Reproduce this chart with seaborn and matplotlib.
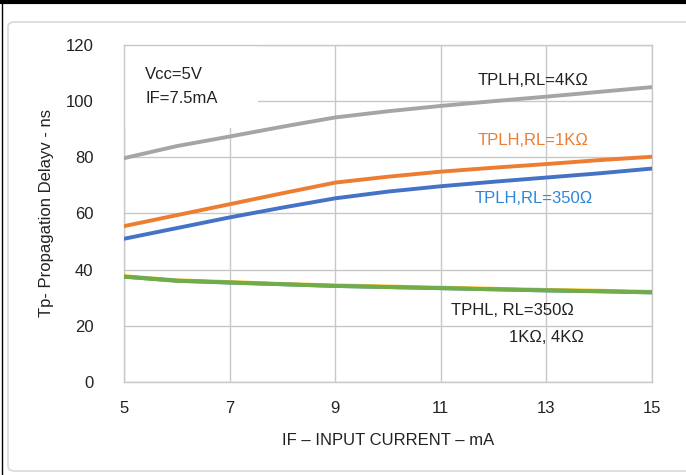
import pandas as pd
import seaborn as sns
import matplotlib.pyplot as plt
from matplotlib.patches import Rectangle, FancyBboxPatch
from matplotlib.lines import Line2D

# values
current = [5, 6, 7, 8, 9, 10, 11, 12, 13, 14, 15]
tplh_350 = [51.0, 54.8, 58.6, 62.1, 65.4, 67.8, 69.7, 71.3, 72.8, 74.3, 76.0]
tplh_1k = [55.5, 59.4, 63.3, 67.2, 71.0, 73.1, 74.9, 76.3, 77.6, 79.0, 80.2]
tplh_4k = [79.7, 84.0, 87.4, 90.9, 94.2, 96.4, 98.3, 100.0, 101.6, 103.3, 105.0]
tphl_350 = [37.7, 36.2, 35.6, 34.9, 34.4, 34.0, 33.6, 33.2, 32.8, 32.5, 32.1]
tphl_1k = [37.5, 36.1, 35.4, 34.8, 34.2, 33.8, 33.4, 33.0, 32.6, 32.3, 31.9]
tphl_4k = [37.5, 36.0, 35.4, 34.8, 34.2, 33.8, 33.4, 33.0, 32.6, 32.3, 31.9]

series = {
    'TPLH 350': tplh_350,
    'TPLH 1K': tplh_1k,
    'TPLH 4K': tplh_4k,
    'TPHL 350': tphl_350,
    'TPHL 1K': tphl_1k,
    'TPHL 4K': tphl_4k,
}
colors = ['#4472C4', '#ED7D31', '#A5A5A5', '#FFC000', '#5B9BD5', '#70AD47']

df = pd.concat([pd.DataFrame({'IF': current, 'Tp': v, 'curve': k}) for k, v in series.items()])

sns.set_style('white')
plt.rcParams['font.family'] = ['Liberation Sans', 'DejaVu Sans']

fig = plt.figure(figsize=(6.86, 4.75), dpi=100)
ax = fig.add_axes([0.1808, 0.1958, 0.7696, 0.7095])

sns.lineplot(data=df, x='IF', y='Tp', hue='curve', palette=colors, linewidth=2.8,
             legend=False, ax=ax, zorder=3)

ax.set_xlim(5, 15)
ax.set_ylim(0, 120)
ax.set_xticks([5, 7, 9, 11, 13, 15])
ax.set_yticks(range(0, 121, 20))
ax.grid(True, color='#C8C8C8', linewidth=1.0)
for s in ax.spines.values():
    s.set_color('#C8C8C8')
    s.set_linewidth(1.0)
ax.tick_params(axis='both', length=0, labelsize=12, colors='#222222')
ax.tick_params(axis='x', pad=14)
ax.tick_params(axis='y', pad=22)
ax.set_xlabel('IF – INPUT CURRENT – mA', fontsize=12, color='#222222', labelpad=12)
ax.set_ylabel('Tp- Propagation Delayv - ns', fontsize=12, color='#222222', labelpad=8)

# condition box with white background over the grid
ax.add_patch(Rectangle((5, 90.5), 2.53, 29.5, facecolor='white', edgecolor='none', zorder=2))
ax.text(5.4, 109.5, 'Vcc=5V', fontsize=12, color='#222222', va='center', zorder=4)
ax.text(5.4, 101.0, 'IF=7.5mA', fontsize=12, color='#222222', va='center', zorder=4)

ax.text(11.7, 107.5, 'TPLH,RL=4KΩ', fontsize=12, color='#222222', va='center', zorder=4)
ax.text(11.7, 86.0, 'TPLH,RL=1KΩ', fontsize=12, color='#ED7D31', va='center', zorder=4)
ax.text(11.65, 65.3, 'TPLH,RL=350Ω', fontsize=12, color='#2E86D6', va='center', zorder=4)
ax.text(11.2, 25.5, 'TPHL, RL=350Ω', fontsize=12, color='#222222', va='center', zorder=4)
ax.text(12.3, 15.8, '1KΩ, 4KΩ', fontsize=12, color='#222222', va='center', zorder=4)

# outer frame
fig.patches.append(FancyBboxPatch((8 / 686, 4 / 475), 690 / 686, 449 / 475,
                                  boxstyle='round,pad=0,rounding_size=0.01',
                                  transform=fig.transFigure, facecolor='none',
                                  edgecolor='#D9D9D9', linewidth=1.2))
fig.lines.append(Line2D([0, 1], [0.995, 0.995], transform=fig.transFigure, color='black', linewidth=3))
fig.lines.append(Line2D([0.003, 0.003], [0, 1], transform=fig.transFigure, color='black', linewidth=1))

fig.savefig('out.png', dpi=100)
